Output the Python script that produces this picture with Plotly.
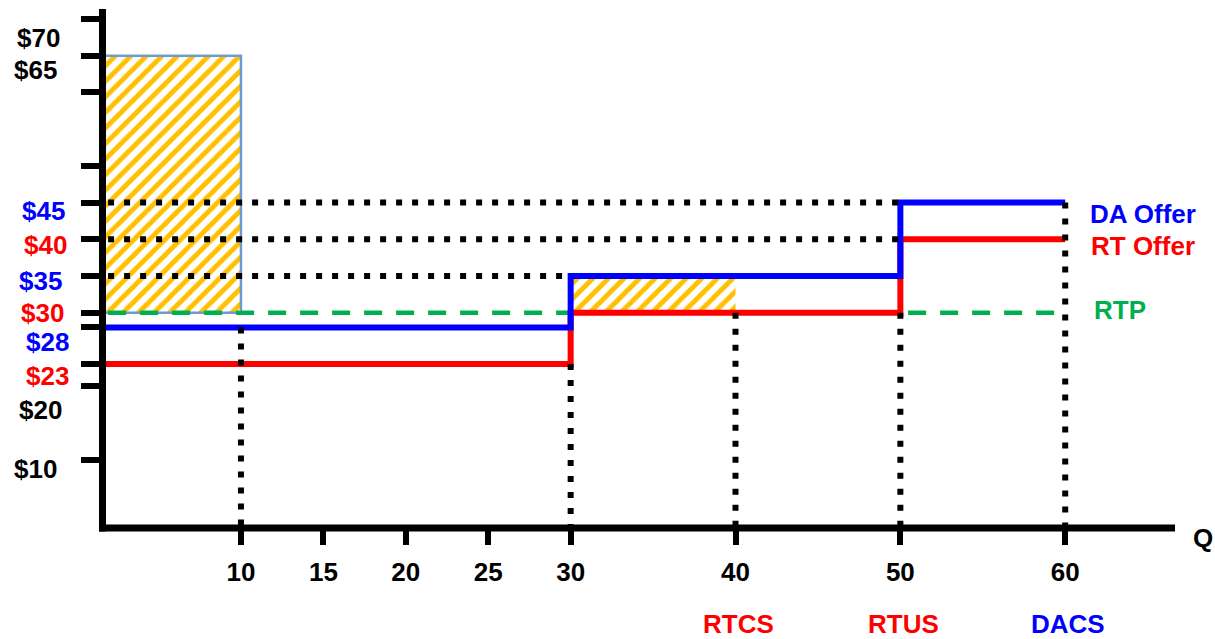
import plotly.graph_objects as go

# ---------------- data ----------------
q_breaks = [0, 30, 50, 60]          # quantity where each offer block starts / ends
da_price = [28, 35, 45]             # DA offer price per block
rt_price = [23, 30, 40]             # RT offer price per block
rtp_price = 30                      # real-time price
rtp_q_end = 60

# hatched surplus areas
area_x0 = [0, 30]
area_x1 = [10, 40]
area_y0 = [30, 30]
area_y1 = [65, 35]

# dotted guide lines
h_guide_price = [45, 40, 35]
h_guide_end = [50, 50, 30]
v_guide_q = [10, 30, 40, 50, 60]
v_guide_top = [28, 23, 30, 30, 45]

q_ticks = [10, 15, 20, 25, 30, 40, 50, 60]
q_tick_labels = ["10", "15", "20", "25", "30", "40", "50", "60"]
p_ticks = [10, 20, 23, 28, 30, 35, 40, 45, 50, 60, 65, 70]
p_tick_labels = ["$10", "$20", "$23", "$28", "$30", "$35", "$40", "$45", "", "", "$65", "$70"]

surplus_names = ["RTCS", "RTUS", "DACS"]
surplus_q = [40, 50, 60]

# ---------------- style ----------------
W, H = 1215, 639
L, R, T, B = 100, 1175, 9, 528
BLUE, RED, GREEN, HATCH = "#0000FF", "#FF0000", "#00B050", "#FFC000"
FONT = "Liberation Sans, Arial, sans-serif"
FS = 26


def pxx(p):
    return (p - L) / (R - L)


def pxy(p):
    return (B - p) / (B - T)


fig = go.Figure()

# hatched areas
for k, (x0, x1, y0, y1) in enumerate(zip(area_x0, area_x1, area_y0, area_y1)):
    fig.add_trace(go.Bar(
        x=[(x0 + x1) / 2], y=[y1 - y0], base=[y0], width=[x1 - x0],
        marker=dict(color="white", opacity=1,
                    pattern=dict(shape="/", fgcolor=HATCH, bgcolor="white", size=11,
                                 solidity=0.45, fgopacity=1),
                    line=dict(color="#6D9BD1" if k == 0 else "rgba(0,0,0,0)", width=2.5 if k == 0 else 0)),
        showlegend=False, hoverinfo="skip"))

# RTP dashed
fig.add_trace(go.Scatter(x=[q_breaks[0], rtp_q_end], y=[rtp_price, rtp_price], mode="lines",
                         line=dict(color=GREEN, width=4.5, dash="18px,14px"),
                         showlegend=False, hoverinfo="skip"))
# RT offer
fig.add_trace(go.Scatter(x=q_breaks, y=rt_price + [rt_price[-1]], mode="lines",
                         line=dict(color=RED, width=6, shape="hv"), showlegend=False))
# DA offer
fig.add_trace(go.Scatter(x=q_breaks, y=da_price + [da_price[-1]], mode="lines",
                         line=dict(color=BLUE, width=6, shape="hv"), showlegend=False))

# dotted guides
for p, e in zip(h_guide_price, h_guide_end):
    fig.add_trace(go.Scatter(x=[0, e], y=[p, p], mode="lines",
                             line=dict(color="black", width=6, dash="6px,10px"),
                             showlegend=False, hoverinfo="skip"))
for q, t in zip(v_guide_q, v_guide_top):
    fig.add_trace(go.Scatter(x=[q, q], y=[t, 0], mode="lines",
                             line=dict(color="black", width=6, dash="6px,10px"),
                             showlegend=False, hoverinfo="skip"))

# axis lines as shapes
shapes = [
    dict(type="line", xref="paper", yref="paper", x0=pxx(99), x1=pxx(1175), y0=pxy(528), y1=pxy(528),
         line=dict(color="black", width=7)),
    dict(type="line", xref="paper", yref="paper", x0=pxx(102.5), x1=pxx(102.5), y0=pxy(531.5), y1=pxy(9),
         line=dict(color="black", width=7)),
]

# y tick label annotations
label_color = {"$45": BLUE, "$35": BLUE, "$28": BLUE, "$40": RED, "$30": RED, "$23": RED}
label_cx = {"$70": 38, "$65": 35, "$45": 43, "$40": 46, "$35": 41, "$30": 42,
            "$28": 47, "$23": 47, "$20": 41, "$10": 35}
label_dy = {"$70": -19, "$65": -14, "$45": -8, "$40": -6, "$35": -5, "$30": 0,
            "$28": -15, "$23": -12, "$20": -24, "$10": -9}
annotations = []
for v, t in zip(p_ticks, p_tick_labels):
    if not t:
        continue
    annotations.append(dict(x=pxx(label_cx[t]), xref="paper", y=v, yref="y", text=t, showarrow=False,
                            xanchor="center", yanchor="middle", yshift=label_dy[t],
                            font=dict(family=FONT, size=FS, color=label_color.get(t, "black"), weight="bold")))


def label(text, x, y, color):
    return dict(x=pxx(x), y=pxy(y), xref="paper", yref="paper", text=text, showarrow=False,
                xanchor="center", yanchor="middle",
                font=dict(family=FONT, size=FS, color=color, weight="bold"))


annotations += [
    label("DA Offer", 1143, 214, BLUE),
    label("RT Offer", 1143, 246, RED),
    label("RTP", 1120, 310, GREEN),
    label("Q", 1203, 538, "black"),
]
surplus_color = {"RTCS": RED, "RTUS": RED, "DACS": BLUE}
for n, q in zip(surplus_names, surplus_q):
    annotations.append(dict(x=q, xref="x", y=pxy(624), yref="paper", text=n, showarrow=False,
                            xanchor="center", yanchor="middle", xshift=3,
                            font=dict(family=FONT, size=FS, color=surplus_color[n], weight="bold")))

fig.update_layout(
    width=W, height=H,
    margin=dict(l=L, r=W - R, t=T, b=H - B, pad=0, autoexpand=False),
    paper_bgcolor="white", plot_bgcolor="white",
    barmode="overlay", showlegend=False,
    shapes=shapes, annotations=annotations,
    xaxis=dict(range=[1.45, 66.66], showgrid=False, zeroline=False, showline=False,
               tickmode="array", tickvals=q_ticks, ticktext=q_tick_labels,
               ticks="outside", ticklen=16, tickwidth=6, tickcolor="black",
               tickfont=dict(family=FONT, size=FS, color="black", weight="bold"),
               ticklabelstandoff=5),
    yaxis=dict(range=[0.68, 71.36], showgrid=False, zeroline=False, showline=False,
               tickmode="array", tickvals=p_ticks, showticklabels=False,
               ticks="outside", ticklen=18, tickwidth=6, tickcolor="black"),
)

fig.write_html("out.html", config={"displayModeBar": False},
               post_script="document.body.style.margin='0';document.body.style.overflow='hidden';")
